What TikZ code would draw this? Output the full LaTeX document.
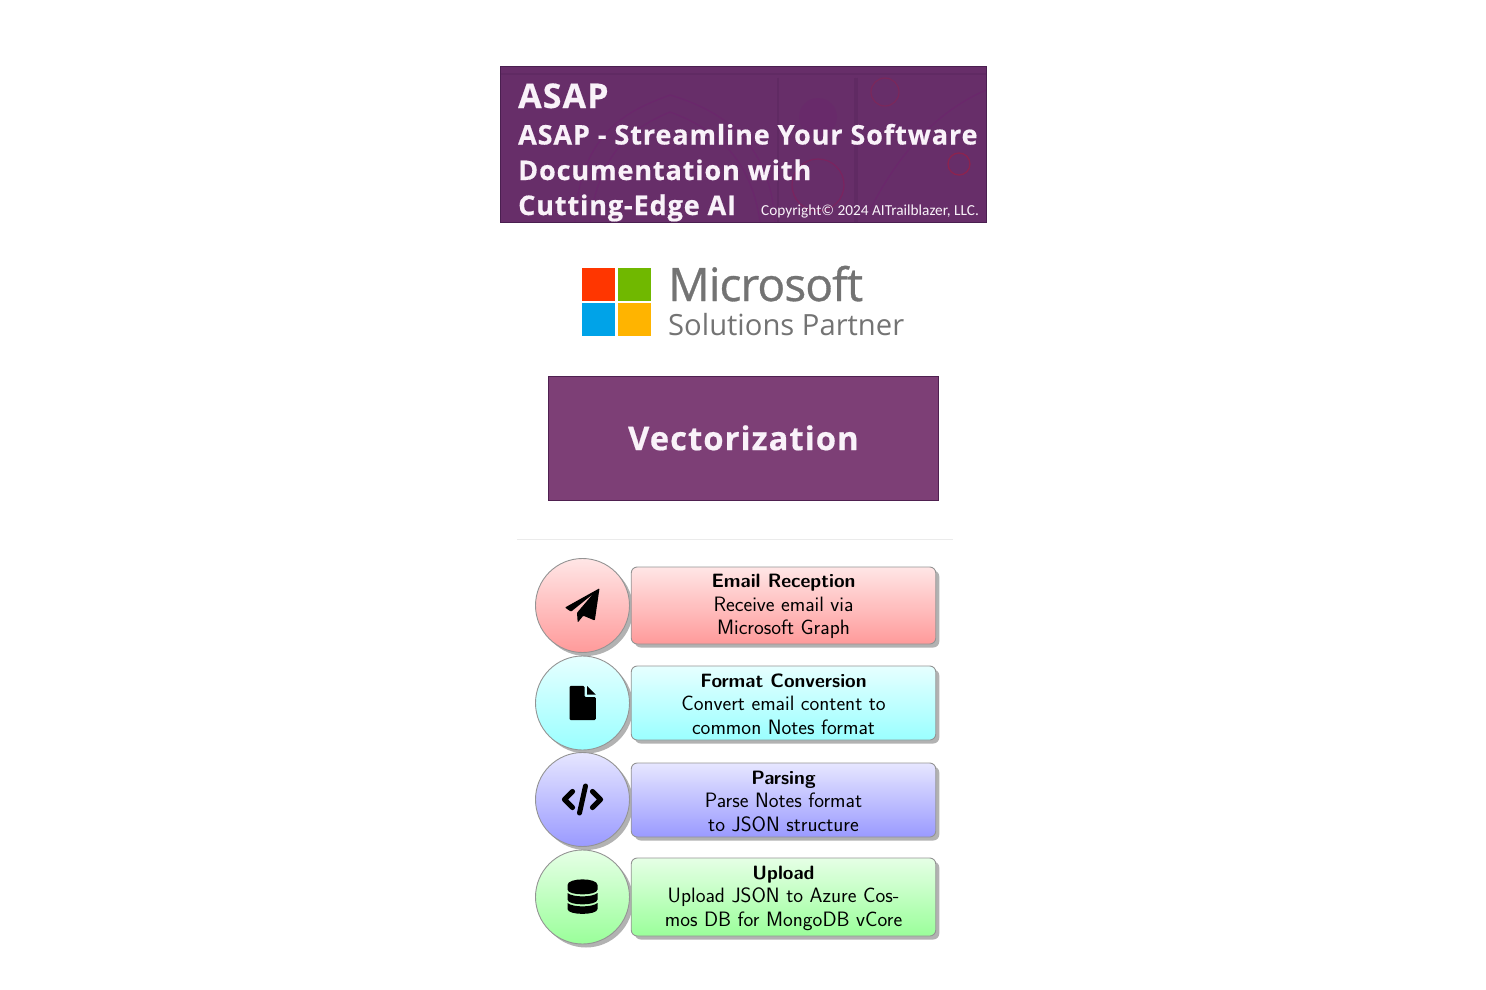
\documentclass[tikz,border=0pt]{standalone}
\usepackage{fontspec}
\usetikzlibrary{shadows,calc}
\newfontfamily\bannerfont[LetterSpace=3.3,BoldFeatures={FakeBold=0.5}]{Open Sans}
\newfontfamily\msfont[LetterSpace=-2,FakeBold=0.7]{Open Sans}
\newfontfamily\mssubfont{Open Sans}
\newfontfamily\copyfont{Carlito}
\definecolor{bannerbg}{HTML}{672E69}
\definecolor{bannerline}{HTML}{4A1F50}
\definecolor{vecbg}{HTML}{7D3F76}
\definecolor{vecline}{HTML}{4F2050}
\definecolor{msgray}{HTML}{737373}
\definecolor{soft}{HTML}{F9F2F9}
\definecolor{msred}{HTML}{FF3600}
\definecolor{msgreen}{HTML}{70B800}
\definecolor{msblue}{HTML}{00A3E8}
\definecolor{msyellow}{HTML}{FFB400}
\definecolor{redtop}{HTML}{FFE6E6}
\definecolor{redbot}{HTML}{FF9A9A}
\definecolor{cyantop}{HTML}{E6FFFF}
\definecolor{cyanbot}{HTML}{9AFFFF}
\definecolor{bluetop}{HTML}{E6E6FF}
\definecolor{bluebot}{HTML}{9A9AFF}
\definecolor{greentop}{HTML}{E6FFE6}
\definecolor{greenbot}{HTML}{9AFF9A}
\newcommand{\boxhead}[1]{{\bfseries\fontsize{19.3}{23.4}\selectfont\rule{0pt}{15.6pt}#1}}
\tikzset{
  x=1pt,y=-1pt,
  bannertext/.style={anchor=base west,inner sep=0pt,text=soft},
  deco/.style={draw=#1,line width=1.2pt,opacity=0.22},
  msq/.style={anchor=north west,inner sep=0pt,minimum width=32.3pt,minimum height=32.3pt,fill=#1},
  stepcircle/.style n args={2}{circle,draw=black!42,line width=0.9pt,minimum size=94pt,inner sep=0pt,top color=#1,bottom color=#2,
    drop shadow={shadow xshift=3.5pt,shadow yshift=-3.5pt,fill=black!30,opacity=1}},
  stepbox/.style n args={3}{rectangle,rounded corners=6pt,draw=black!42,line width=0.9pt,minimum width=304.5pt,minimum height=#3,inner sep=0pt,top color=#1,bottom color=#2,
    drop shadow={shadow xshift=3.5pt,shadow yshift=-3.5pt,fill=black!30,opacity=1},
    align=center,font=\sffamily\fontsize{20.8}{23.4}\selectfont,text=black},
}
\begin{document}
\begin{tikzpicture}
\useasboundingbox (0,0) rectangle (1486,990);
% banner
\node[rectangle,draw=bannerline,line width=0.8pt,fill=bannerbg,anchor=north west,minimum width=486.5pt,minimum height=155.5pt,inner sep=0pt] (banner) at (499.5,66) {};
\begin{scope}
\clip (499.5,66) rectangle (986.5,222);
\draw[deco=bannerline] (499.5,74) -- (986.5,74);
\draw[deco=violet!60!bannerbg] (575,222) .. controls (580,130) and (630,110) .. (670,95) .. controls (720,110) and (770,140) .. (775,222);
\draw[deco=violet!60!bannerbg] (590,222) .. controls (600,145) and (640,125) .. (670,112) .. controls (705,125) and (750,150) .. (760,222);
\draw[deco=bannerline] (778,78) -- (778,222);
\draw[deco=bannerline] (857,78) -- (857,222);
\draw[deco=bannerline] (855,78) -- (855,222);
\fill[violet!55!bannerbg,opacity=0.14] (818,117) circle (19pt);
\draw[deco=violet!50!red] (818,185) circle (26pt);
\draw[deco=red!60!bannerbg] (885,92) circle (14pt);
\draw[draw=red!40!bannerbg,line width=1.3pt,opacity=0.6] (959,164) circle (11pt);
\draw[deco=violet!60!bannerbg] (870,210) .. controls (900,150) and (940,110) .. (986,90);
\end{scope}
\node[bannertext,font=\bannerfont\bfseries\fontsize{34}{34}\selectfont] (t1) at (518,108) {ASAP};
\node[bannertext,font=\bannerfont\bfseries\fontsize{27}{27}\selectfont] (t2) at (518,144.5) {ASAP - Streamline Your Software};
\node[bannertext,font=\bannerfont\bfseries\fontsize{27}{27}\selectfont] (t3) at (518,180) {Documentation with};
\node[bannertext,font=\bannerfont\bfseries\fontsize{27}{27}\selectfont] (t4) at (518,215) {Cutting-Edge AI};
\node[anchor=base west,inner sep=0pt,text=soft,font=\copyfont\fontsize{15.3}{16}\selectfont] (copy) at (761,215.5) {Copyright© 2024 AITrailblazer, LLC.};
% Microsoft logo
\node[msq=msred] (ms1) at (582,268) {};
\node[msq=msgreen] (ms2) at (618,268) {};
\node[msq=msblue] (ms3) at (582,303) {};
\node[msq=msyellow] (ms4) at (618,303) {};
\node[anchor=base west,inner sep=0pt,text=msgray,font=\msfont\fontsize{46}{46}\selectfont] (mstext) at (668,301) {Microsoft};
\node[anchor=base west,inner sep=0pt,text=msgray,font=\mssubfont\fontsize{29.2}{29}\selectfont] (mssub) at (668,335.5) {Solutions Partner};
% title
\node[rectangle,draw=vecline,line width=0.8pt,fill=vecbg,anchor=north west,minimum width=390pt,minimum height=124pt,inner sep=0pt,text=soft,font=\bannerfont\bfseries\fontsize{32.7}{33}\selectfont] (title) at (548,375.5) {Vectorization};
% rule
\coordinate (ruleL) at (517,539.5);
\coordinate (ruleR) at (953,539.5);
\draw[draw=black!8,line width=1pt] (ruleL) -- (ruleR);
% circles
\node[stepcircle={redtop}{redbot}] (c1) at (582.5,605.5) {};
\node[stepcircle={cyantop}{cyanbot}] (c2) at (582.5,703) {};
\node[stepcircle={bluetop}{bluebot}] (c3) at (582.5,799.5) {};
\node[stepcircle={greentop}{greenbot}] (c4) at (582.5,897) {};
% boxes
\node[stepbox={redtop}{redbot}{77pt}] (b1) at (783.5,605.5) {\boxhead{Email Reception}\\Receive email via\\Microsoft Graph};
\node[stepbox={cyantop}{cyanbot}{74pt}] (b2) at (783.5,703) {\boxhead{Format Conversion}\\Convert email content to\\common Notes format};
\node[stepbox={bluetop}{bluebot}{74pt}] (b3) at (783.5,800) {\boxhead{Parsing}\\Parse Notes format\\to JSON structure};
\node[stepbox={greentop}{greenbot}{78pt}] (b4) at (783.5,897) {\boxhead{Upload}\\Upload JSON to Azure Cos-\\mos DB for MongoDB vCore};
% icons
% paper plane
\fill[black,rounded corners=0.8pt] (599.5,588.3) -- (565,607.5) -- (571,611.7) -- (593,594) -- (577,612.7) -- (577.7,622.5) -- (583.3,615.7) -- (594.8,620.5) -- cycle;
% file
\fill[black,rounded corners=1.2pt] (569.5,685.8) -- (584.5,685.8) -- (584.5,697) -- (595.8,697) -- (595.8,720) -- (569.5,720) -- cycle;
\fill[black] (587,685.8) -- (595.8,694.6) -- (587,694.6) -- cycle;
% code
\draw[black,line width=5.2pt,line join=round,line cap=round] (572.5,791.5) -- (564.5,799.5) -- (572.5,807.5);
\draw[black,line width=5.2pt,line join=round,line cap=round] (592.5,791.5) -- (600.5,799.5) -- (592.5,807.5);
\draw[black,line width=5pt,line cap=round] (585.5,786) -- (579.5,813);
% database
\fill[black] (567.5,885) .. controls (567.5,877.5) and (597.5,877.5) .. (597.5,885) -- (597.5,889.5) .. controls (597.5,896) and (567.5,896) .. (567.5,889.5) -- cycle;
\fill[black] (567.5,893) .. controls (573,897.5) and (592,897.5) .. (597.5,893) -- (597.5,899.5) .. controls (597.5,906) and (567.5,906) .. (567.5,899.5) -- cycle;
\fill[black] (567.5,903) .. controls (573,907.5) and (592,907.5) .. (597.5,903) -- (597.5,909) .. controls (597.5,915.5) and (567.5,915.5) .. (567.5,909) -- cycle;
\end{tikzpicture}
\end{document}
